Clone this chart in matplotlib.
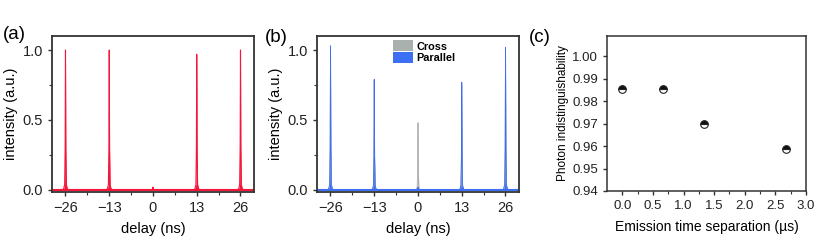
import matplotlib.pyplot as plt
import numpy as np

plt.rcParams['font.family'] = ['Liberation Sans', 'DejaVu Sans']

# panel (a) and (b): coincidence peaks
peak_centers = [-26, -13, 0, 13, 26]
heights_a = [1.0, 1.0, 0.02, 0.97, 1.0]
heights_cross = [1.0, 0.78, 0.48, 0.76, 1.0]
heights_parallel = [1.03, 0.79, 0.02, 0.77, 1.02]
# shape of a single peak: offsets (ns) and relative heights
peak_dx = [-0.9, -0.5, -0.25, -0.1, 0.0, 0.1, 0.25, 0.5, 0.9]
peak_rel = [0.0, 0.01, 0.04, 0.3, 1.0, 0.3, 0.04, 0.01, 0.0]
delay_ticks = [-26, -13, 0, 13, 26]

# panel (c)
sep = [0.0, 0.67, 1.33, 2.67]
indist = [0.9855, 0.9855, 0.9700, 0.9587]
indist_err = [0.0008, 0.0008, 0.0008, 0.0006]

red = '#f5163c'
blue = '#3d6ff5'
gray = '#a9b0ae'
spine_c = '#333333'


def peaks_xy(heights):
    xs, ys = [-30], [0]
    for c, h in zip(peak_centers, heights):
        for dx, r in zip(peak_dx, peak_rel):
            xs.append(c + dx)
            ys.append(h * r)
    xs.append(30)
    ys.append(0)
    return np.array(xs), np.array(ys)


def style(ax, lw=1.3):
    for s in ax.spines.values():
        s.set_color(spine_c)
        s.set_linewidth(lw)
    ax.tick_params(direction='out', length=3, width=1, colors=spine_c,
                   labelcolor='#222222')
    ax.tick_params(which='minor', direction='out', length=2, width=0.8, colors=spine_c)


fig = plt.figure(figsize=(8.31, 2.46), dpi=100)
ax1 = fig.add_axes([0.0626, 0.2195, 0.243, 0.634])
ax2 = fig.add_axes([0.3815, 0.2195, 0.243, 0.634])
ax3 = fig.add_axes([0.7304, 0.2236, 0.2395, 0.630])

# (a)
x, y = peaks_xy(heights_a)
ax1.fill_between(x, 0, y, color=red, lw=0)
ax1.plot(x, y, color=red, lw=0.8)
ax1.axhline(0, color=red, lw=1.5)

# (b)
x, y = peaks_xy(heights_cross)
ax2.fill_between(x, 0, y, color=gray, lw=0, label='Cross')
ax2.plot(x, y, color=gray, lw=0.6)
x, y = peaks_xy(heights_parallel)
ax2.fill_between(x, 0, y, color=blue, lw=0, label='Parallel')
ax2.plot(x, y, color=blue, lw=0.6)
ax2.axhline(0, color=blue, lw=1.5)
leg = ax2.legend(loc='upper center', frameon=False,
                 prop={'weight': 'bold', 'size': 7.8}, handlelength=1.9,
                 handleheight=1.2, handletextpad=0.3, labelspacing=0.05,
                 borderaxespad=0.0, bbox_to_anchor=(0.53, 1.0))

for ax in (ax1, ax2):
    ax.set_xlim(-30, 30)
    ax.set_ylim(-0.015, 1.1)
    ax.set_xticks(delay_ticks)
    ax.set_xticks([-19.5, -6.5, 6.5, 19.5], minor=True)
    ax.set_yticks([0.0, 0.5, 1.0])
    ax.set_yticks([0.25, 0.75], minor=True)
    ax.set_yticklabels(['0.0', '0.5', '1.0'])
    ax.tick_params(labelsize=10.5)
    ax.set_xlabel('delay (ns)', fontsize=10.5, labelpad=5)
    ax.set_ylabel('intensity (a.u.)', fontsize=10.5, labelpad=3)
    style(ax)

# (c)
ax3.errorbar(sep, indist, yerr=indist_err, fmt='o', ms=5.5, color='#111111',
             mfc='#111111', mfcalt='white', fillstyle='top', mec='#222222',
             mew=0.8, ecolor='#222222', elinewidth=0.8, capsize=2)
ax3.set_xlim(-0.25, 3.0)
ax3.set_ylim(0.94, 1.009)
ax3.set_xticks(np.arange(0, 3.01, 0.5))
ax3.set_xticks(np.arange(0.25, 3.0, 0.5), minor=True)
ax3.set_yticks(np.arange(0.94, 1.001, 0.01))
ax3.set_xticklabels(['0.0', '0.5', '1.0', '1.5', '2.0', '2.5', '3.0'])
ax3.set_yticklabels(['0.94', '0.95', '0.96', '0.97', '0.98', '0.99', '1.00'])
ax3.tick_params(labelsize=9.5)
ax3.set_xlabel('Emission time separation (\u00b5s)', fontsize=10, labelpad=6)
ax3.set_ylabel('Photon indistinguishability', fontsize=8.5, labelpad=2)
style(ax3, lw=1.1)

fig.text(0.003, 0.858, '(a)', fontsize=13.5, va='center')
fig.text(0.319, 0.846, '(b)', fontsize=13.5, va='center')
fig.text(0.637, 0.846, '(c)', fontsize=13.5, va='center')

fig.savefig('out.png', dpi=100)
